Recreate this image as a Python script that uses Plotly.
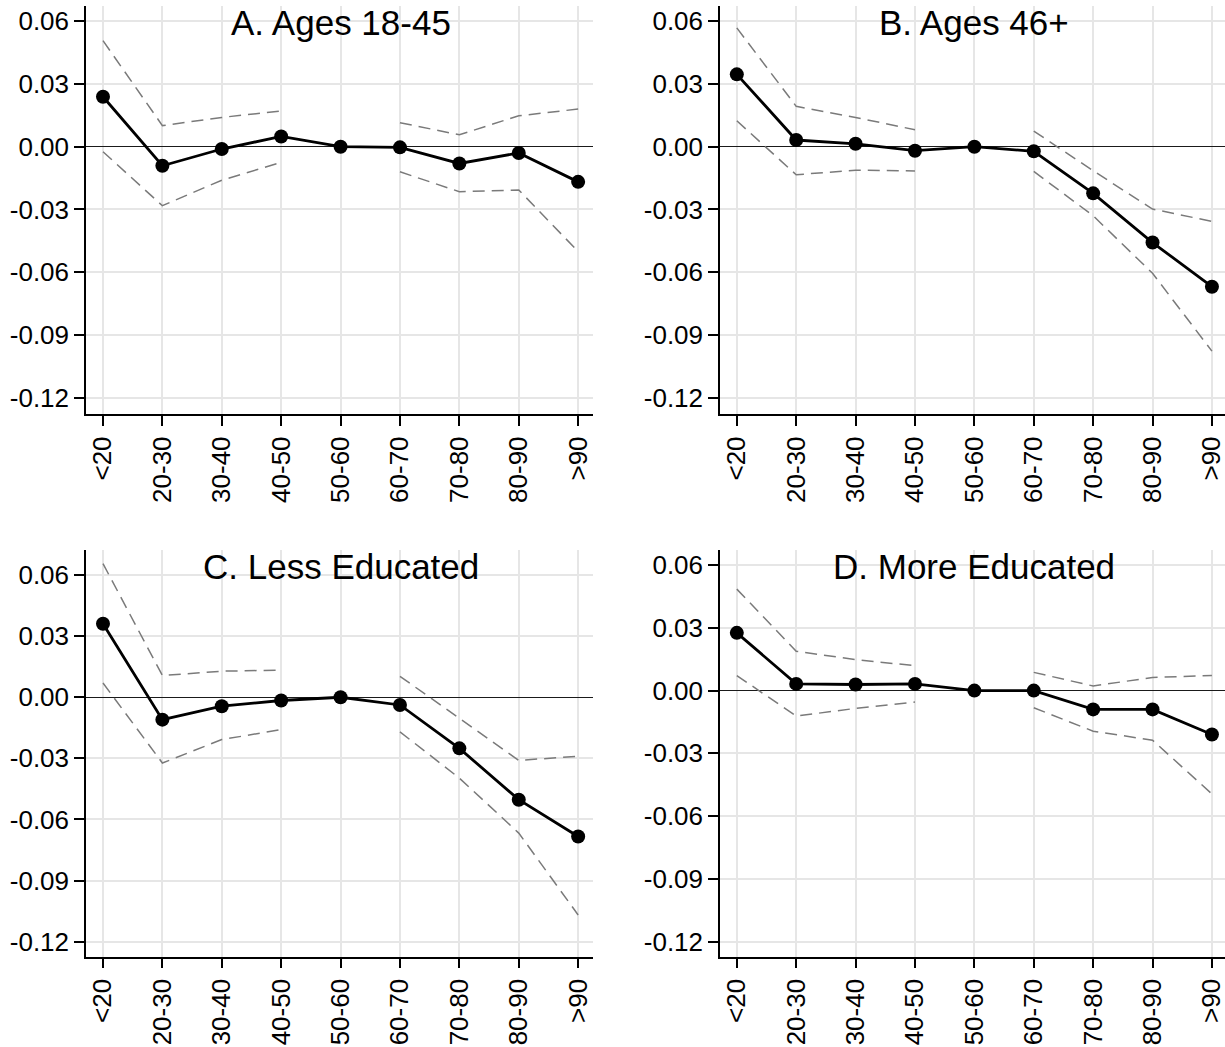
import plotly.graph_objects as go

categories = ["<20", "20-30", "30-40", "40-50", "50-60", "60-70", "70-80", "80-90", ">90"]
titles = ["A. Ages 18-45", "B. Ages 46+", "C. Less Educated", "D. More Educated"]
ytick_vals = [0.06, 0.03, 0.00, -0.03, -0.06, -0.09, -0.12]
ytick_text = ["0.06", "0.03", "0.00", "-0.03", "-0.06", "-0.09", "-0.12"]

# Panel A: Ages 18-45
a_est = [0.0239, -0.0091, -0.0011, 0.0049, 0.0, -0.0003, -0.0080, -0.0030, -0.0168]
a_hi = [0.0507, 0.0101, 0.0140, 0.0171, None, 0.0115, 0.0057, 0.0148, 0.0180]
a_lo = [-0.0024, -0.0282, -0.0160, -0.0075, None, -0.0120, -0.0215, -0.0207, -0.0501]

# Panel B: Ages 46+
b_est = [0.0346, 0.0032, 0.0014, -0.0019, 0.0, -0.0022, -0.0223, -0.0458, -0.0669]
b_hi = [0.0568, 0.0193, 0.0140, 0.0081, None, 0.0075, -0.0115, -0.0298, -0.0357]
b_lo = [0.0124, -0.0134, -0.0112, -0.0116, None, -0.0118, -0.0330, -0.0605, -0.0977]

# Panel C: Less Educated
c_est = [0.0361, -0.0110, -0.0044, -0.0016, 0.0, -0.0038, -0.0251, -0.0503, -0.0684]
c_hi = [0.0656, 0.0107, 0.0128, 0.0133, None, 0.0103, -0.0102, -0.0310, -0.0290]
c_lo = [0.0070, -0.0323, -0.0208, -0.0159, None, -0.0170, -0.0397, -0.0667, -0.1069]

# Panel D: More Educated
d_est = [0.0276, 0.0032, 0.0029, 0.0032, 0.0, 0.0000, -0.0090, -0.0090, -0.0210]
d_hi = [0.0485, 0.0188, 0.0148, 0.0119, None, 0.0087, 0.0022, 0.0063, 0.0072]
d_lo = [0.0072, -0.0122, -0.0085, -0.0055, None, -0.0082, -0.0194, -0.0237, -0.0494]

panels = [(a_est, a_hi, a_lo), (b_est, b_hi, b_lo), (c_est, c_hi, c_lo), (d_est, d_hi, d_lo)]

W, H = 1225, 1047
# pixel boxes (left, right, top, bottom)
boxes = [(86, 593, 5.5, 414.3), (720, 1225, 5.5, 414.3),
         (86, 593, 550, 956.7), (720, 1225, 550, 956.7)]
xranges = [[-0.286, 8.25], [-0.283, 8.22], [-0.286, 8.25], [-0.283, 8.22]]
yranges = [[-0.1279, 0.0675], [-0.1279, 0.0675], [-0.1274, 0.0723], [-0.1272, 0.0672]]

FONT = "Arial, Liberation Sans, sans-serif"
fig = go.Figure()
layout = dict(width=W, height=H, margin=dict(l=0, r=0, t=0, b=0),
              paper_bgcolor="white", plot_bgcolor="white", showlegend=False,
              font=dict(family=FONT, color="black"))
annotations = []
for i, ((est, hi, lo), box, xr, yr) in enumerate(zip(panels, boxes, xranges, yranges)):
    n = "" if i == 0 else str(i + 1)
    xa, ya = "x" + n, "y" + n
    for ci in (hi, lo):
        fig.add_trace(go.Scatter(x=categories, y=ci, mode="lines", xaxis=xa, yaxis=ya,
                                 connectgaps=False,
                                 line=dict(color="#7a7a7a", width=1.5, dash="12px,7px")))
    fig.add_trace(go.Scatter(x=categories, y=est, mode="lines+markers", xaxis=xa, yaxis=ya,
                             line=dict(color="black", width=2.8),
                             marker=dict(color="black", size=14)))
    l, r, t, b = box
    layout["xaxis" + n] = dict(domain=[l / W, r / W], anchor=ya, range=xr,
                               type="category", categoryorder="array", categoryarray=categories,
                               showline=True, linecolor="black", linewidth=1.5,
                               ticks="outside", ticklen=10, tickwidth=1.5, tickcolor="black",
                               tickangle=-90, tickfont=dict(size=26, family=FONT, color="black"),
                               showgrid=True, gridcolor="#e6e6e6", gridwidth=1.5,
                               zeroline=False, automargin=False, fixedrange=True)
    layout["yaxis" + n] = dict(domain=[1 - b / H, 1 - t / H], anchor=xa, range=yr,
                               tickvals=ytick_vals, ticktext=ytick_text,
                               showline=True, linecolor="black", linewidth=1.5,
                               ticks="outside", ticklen=10, tickwidth=1.5, tickcolor="black",
                               tickfont=dict(size=26, family=FONT, color="black"),
                               showgrid=True, gridcolor="#e6e6e6", gridwidth=1.5,
                               zeroline=True, zerolinecolor="#1a1a1a", zerolinewidth=1.2,
                               automargin=False, fixedrange=True)
    annotations.append(dict(text=titles[i], xref=xa, x=4, yref=ya + " domain", y=1,
                            yanchor="top", xanchor="center", showarrow=False, yshift=5,
                            font=dict(size=35, family=FONT, color="black")))
layout["annotations"] = annotations
fig.update_layout(**layout)
fig.write_html("out.html")
